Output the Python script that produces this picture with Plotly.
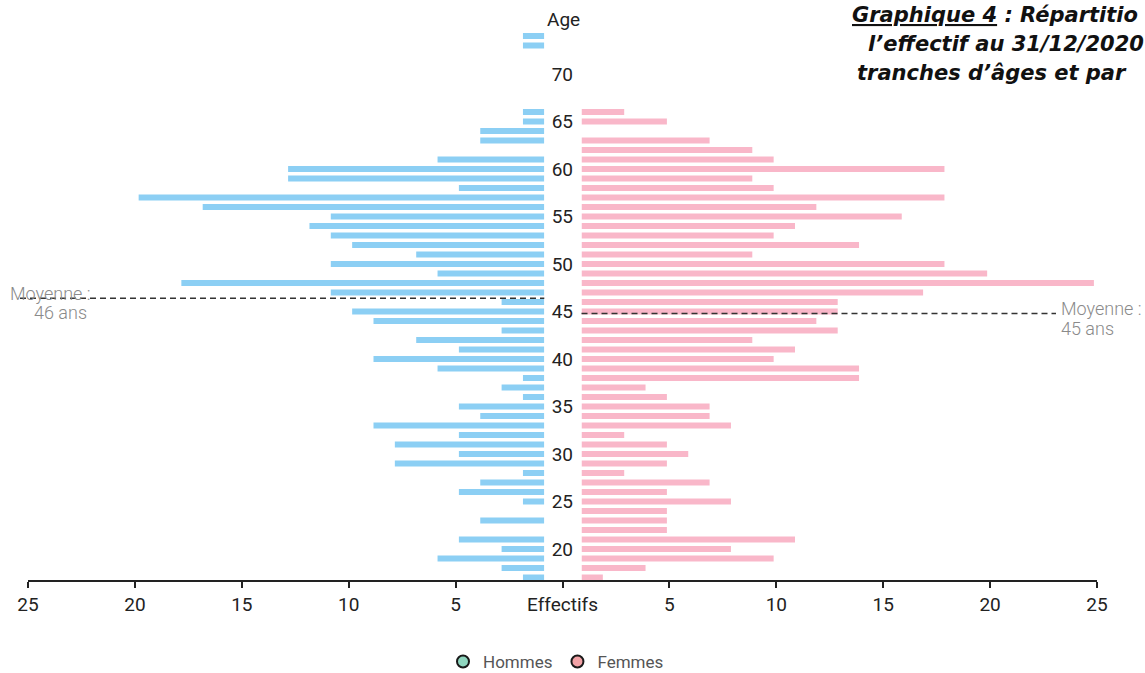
import plotly.graph_objects as go

# ---------------- data ----------------
ages = list(range(17, 75))
hommes = [1, 2, 5, 2, 4, 0, 3, 0, 1, 4,   # 17-26
          3, 1, 7, 4, 7, 4, 8, 3, 4, 1,   # 27-36
          2, 1, 5, 8, 4, 6, 2, 8, 9, 2,   # 37-46
          10, 17, 5, 10, 6, 9, 10, 11, 10, 16,  # 47-56
          19, 4, 12, 12, 5, 0, 3, 3, 1, 1,      # 57-66
          0, 0, 0, 0, 0, 0, 1, 1]               # 67-74
femmes = [1, 3, 9, 7, 10, 4, 4, 4, 7, 4,  # 17-26
          6, 2, 4, 5, 4, 2, 7, 6, 6, 4,   # 27-36
          3, 13, 13, 9, 10, 8, 12, 11, 12, 12,  # 37-46
          16, 24, 19, 17, 8, 13, 9, 10, 15, 11,  # 47-56
          17, 9, 8, 17, 9, 8, 6, 0, 4, 2,        # 57-66
          0, 0, 0, 0, 0, 0, 0, 0]                # 67-74
age_ticks = [20, 25, 30, 35, 40, 45, 50, 55, 60, 65, 70]
x_tickvals = [-25, -20, -15, -10, -5, 0, 5, 10, 15, 20, 25]
x_ticktext = ["25", "20", "15", "10", "5", "Effectifs", "5", "10", "15", "20", "25"]
moyenne_hommes = 46.4
moyenne_femmes = 44.8
title_lines = ["<u>Graphique 4</u> : Répartitio",
               "l’effectif au 31/12/2020",
               "tranches d’âges et par"]

# ---------------- layout helpers (pixels -> paper) ----------------
W, H = 1145, 673
def px(x):
    return x / W
def py(y):
    return 1 - y / H

BLUE = "#8ccff4"
PINK = "#f9b7c9"
FONT = "Roboto, 'Liberation Sans', sans-serif"

fig = go.Figure()
fig.add_trace(go.Bar(y=ages, x=hommes, orientation="h", xaxis="x", yaxis="y",
                     marker=dict(color=BLUE, line=dict(width=0)), width=0.62,
                     name="Hommes", showlegend=False))
fig.add_trace(go.Bar(y=ages, x=femmes, orientation="h", xaxis="x2", yaxis="y",
                     marker=dict(color=PINK, line=dict(width=0)), width=0.62,
                     name="Femmes", showlegend=False))
# legend entries (circle markers)
fig.add_trace(go.Scatter(x=[None], y=[None], mode="markers", name="Hommes",
                         xaxis="x3", yaxis="y",
                         marker=dict(symbol="circle", size=12, color="#8fd6bf",
                                     line=dict(color="#1a1a1a", width=2))))
fig.add_trace(go.Scatter(x=[None], y=[None], mode="markers", name="Femmes",
                         xaxis="x3", yaxis="y",
                         marker=dict(symbol="circle", size=12, color="#f2a2a6",
                                     line=dict(color="#1a1a1a", width=2))))

scale = 21.35  # px per unit
left_zero = 544.3
right_zero = 581.5
y_bottom_px = 580
age_bottom = 20 - (y_bottom_px - 549) / 9.5
age_top = 20 + 549 / 9.5

fig.update_layout(
    width=W, height=H,
    margin=dict(l=0, r=0, t=0, b=0, autoexpand=False),
    paper_bgcolor="white", plot_bgcolor="rgba(0,0,0,0)",
    font=dict(family=FONT, size=17, color="#222"),
    xaxis=dict(domain=[px(left_zero - 25 * scale), px(left_zero)], range=[25, 0],
               visible=False, anchor="y", fixedrange=True),
    xaxis2=dict(domain=[px(right_zero), px(right_zero + 25 * scale)], range=[0, 25],
                visible=False, anchor="y", fixedrange=True),
    xaxis3=dict(domain=[px(28), px(1097)], range=[-25, 25], anchor="y",
                showline=True, linecolor="#222", linewidth=1.5,
                ticks="outside", ticklen=6, tickwidth=1.5, tickcolor="#222",
                tickvals=x_tickvals, ticktext=x_ticktext, showgrid=False,
                zeroline=False, tickfont=dict(size=19, color="#222")),
    yaxis=dict(domain=[py(y_bottom_px), 1], range=[age_bottom, age_top],
               anchor="free", position=px(573), tickvals=age_ticks,
               showgrid=False, zeroline=False, showline=False, ticks="",
               tickfont=dict(size=19, color="#222")),
    legend=dict(orientation="h", x=px(556), xanchor="center", y=py(662),
                yanchor="middle", font=dict(size=17, color="#555"),
                bgcolor="rgba(0,0,0,0)", itemwidth=30),
)

# mean lines
fig.add_shape(type="line", xref="paper", yref="y", x0=px(20), x1=px(left_zero),
              y0=moyenne_hommes, y1=moyenne_hommes,
              line=dict(color="#333", width=1.5, dash="6px,4px"))
fig.add_shape(type="line", xref="paper", yref="y", x0=px(right_zero), x1=px(1056),
              y0=moyenne_femmes, y1=moyenne_femmes,
              line=dict(color="#333", width=1.5, dash="6px,4px"))

mean_font = dict(size=18, color="#8a8a8a", weight=300)
fig.add_annotation(text="Moyenne :", xref="paper", yref="y", x=px(93), y=moyenne_hommes,
                   xanchor="right", yanchor="middle", yshift=5,
                   showarrow=False, font=mean_font)
fig.add_annotation(text=f"{round(moyenne_hommes)} ans", xref="paper", yref="y", x=px(89),
                   y=moyenne_hommes, xanchor="right", yanchor="middle", yshift=-14,
                   showarrow=False, font=mean_font)
fig.add_annotation(text="Moyenne :", xref="paper", yref="y", x=px(1059), y=moyenne_femmes,
                   xanchor="left", yanchor="middle", yshift=5,
                   showarrow=False, font=mean_font)
fig.add_annotation(text=f"{round(moyenne_femmes)} ans", xref="paper", yref="y", x=px(1059),
                   y=moyenne_femmes, xanchor="left", yanchor="middle", yshift=-15,
                   showarrow=False, font=mean_font)
fig.add_annotation(text="Age", xref="paper", yref="paper", x=px(563), y=py(19),
                   xanchor="center", yanchor="middle", showarrow=False,
                   font=dict(size=19, color="#222"))

title_pos = [(850, 15), (866, 44), (855, 73)]
for txt, (tx, ty) in zip(title_lines, title_pos):
    fig.add_annotation(text=txt, xref="paper", yref="paper", x=px(tx), y=py(ty),
                       xanchor="left", yanchor="middle", showarrow=False,
                       font=dict(family="'DejaVu Sans', 'Liberation Sans', sans-serif",
                                 size=21, color="#111", weight="bold", style="italic"))

# remove the browser's default page margin so the figure fills the window exactly
fig.write_html("out.html", config={"displayModeBar": False},
               post_script="document.body.style.margin='0px';")
